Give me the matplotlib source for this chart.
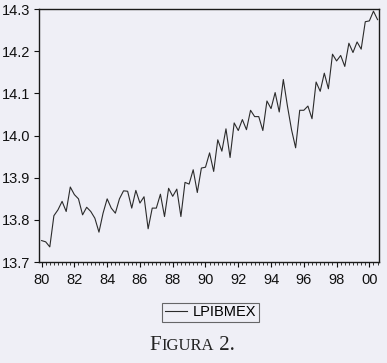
import numpy as np
import matplotlib as mpl
mpl.use("Agg")
import matplotlib.pyplot as plt
from matplotlib.ticker import MultipleLocator, FuncFormatter
from matplotlib.offsetbox import TextArea, HPacker, AnchoredOffsetbox

# quarterly log GDP, 1980Q1 - 2000Q3
lpibmex = [
    13.751, 13.748, 13.736, 13.810, 13.824, 13.844, 13.820, 13.878,
    13.860, 13.850, 13.812, 13.830, 13.820, 13.804, 13.771, 13.816,
    13.850, 13.828, 13.816, 13.850, 13.869, 13.868, 13.828, 13.870,
    13.840, 13.855, 13.779, 13.828, 13.828, 13.861, 13.808, 13.875,
    13.856, 13.873, 13.808, 13.889, 13.885, 13.919, 13.865, 13.923,
    13.925, 13.959, 13.915, 13.990, 13.963, 14.016, 13.948, 14.030,
    14.012, 14.038, 14.014, 14.060, 14.045, 14.045, 14.012, 14.082,
    14.064, 14.102, 14.056, 14.133, 14.070, 14.014, 13.971, 14.060,
    14.060, 14.070, 14.040, 14.127, 14.105, 14.148, 14.111, 14.193,
    14.177, 14.190, 14.164, 14.219, 14.197, 14.222, 14.205, 14.270,
    14.272, 14.295, 14.275,
]
startYear = 1980
yTicks = [13.7, 13.8, 13.9, 14.0, 14.1, 14.2, 14.3]
xTicks = list(range(1980, 2001, 2))

bg = "#efeff6"
mpl.rcParams.update({
    "font.family": ["Liberation Sans", "DejaVu Sans"],
    "xtick.direction": "out",
    "ytick.direction": "out",
})

t = startYear + np.arange(len(lpibmex)) / 4.0

fig = plt.figure(figsize=(3.87, 3.63), dpi=100, facecolor=bg)
ax = fig.add_axes([0.102, 0.278, 0.877, 0.697], facecolor=bg)
line, = ax.plot(t, lpibmex, color="#2b2b2b", linewidth=0.8, label="LPIBMEX")

ax.set_xlim(1979.87, 2000.58)
ax.set_ylim(13.7, 14.3)
ax.set_yticks(yTicks)
ax.set_xticks(xTicks)
ax.xaxis.set_minor_locator(MultipleLocator(0.25))
ax.xaxis.set_major_formatter(FuncFormatter(lambda v, p: "%02d" % (int(round(v)) % 100)))
ax.yaxis.set_major_formatter(FuncFormatter(lambda v, p: "%.1f" % v))
ax.tick_params(axis="both", which="major", labelsize=10.5, length=3.5, width=0.8,
               colors="#111111", pad=3)
ax.tick_params(axis="x", which="major", pad=4)
ax.tick_params(axis="x", which="minor", length=2.2, width=0.6, color="#1a1a1a")
for s in ax.spines.values():
    s.set_linewidth(1.0)
    s.set_color("#1a1a1a")

leg = fig.legend(handles=[line], loc="center", bbox_to_anchor=(210.5 / 387, 1 - 312.5 / 363),
                 fontsize=10.5, frameon=True, fancybox=False, handlelength=1.5,
                 handletextpad=0.4, borderpad=0.2, borderaxespad=0, edgecolor="#444444")
leg.get_frame().set_facecolor(bg)
leg.get_frame().set_linewidth(0.8)

# caption in small caps
capStyle = dict(family="Liberation Serif", color="#222222")
parts = [TextArea("F", textprops=dict(size=15, **capStyle)),
         TextArea("IGURA", textprops=dict(size=12, **capStyle)),
         TextArea(" 2.", textprops=dict(size=15, **capStyle))]
box = HPacker(children=parts, align="baseline", pad=0, sep=0)
anch = AnchoredOffsetbox(loc="center", child=box, frameon=False,
                         bbox_to_anchor=(192 / 387, 1 - 345 / 363),
                         bbox_transform=fig.transFigure, pad=0, borderpad=0)
fig.add_artist(anch)

fig.savefig("out.png", dpi=100, facecolor=bg)
